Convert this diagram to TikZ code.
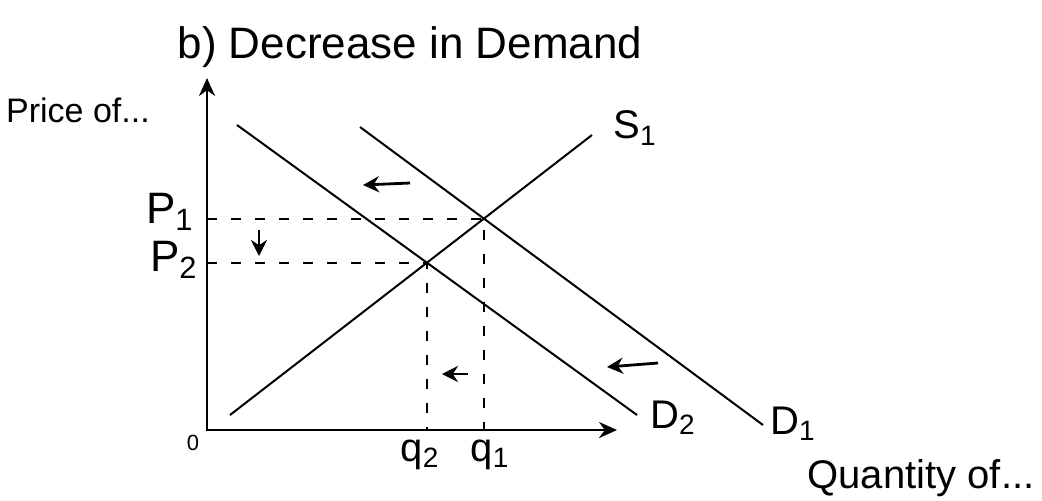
\documentclass[tikz,border=0pt]{standalone}
\usepackage{fontspec}
\setmainfont{Liberation Sans}
\usetikzlibrary{arrows.meta}

\begin{document}
\begin{tikzpicture}[x=0.5pt, y=-0.5pt, >=Stealth,
  curve/.style={line width=1pt},
  guide/.style={line width=1pt, dash pattern=on 5pt off 7pt},
  shiftarrow/.style={-{Stealth[length=8pt, width=8pt]}, line width=1.4pt},
  every node/.style={font=\fontsize{17}{20}\selectfont, inner sep=1pt}]
  \useasboundingbox (0,0) rectangle (1042,500);

  % axes
  \coordinate (O) at (207,430);
  \coordinate (ytop) at (207,78);
  \coordinate (xend) at (617,430);
  \draw[{Stealth[length=9pt, width=8pt]}-{Stealth[length=9pt, width=8pt]}, line width=1.3pt] (ytop) |- (xend);

  % supply and demand curves
  \coordinate (S1a) at (230,415);
  \coordinate (S1b) at (592,135);
  \coordinate (D1a) at (360,127);
  \coordinate (D1b) at (763,425);
  \coordinate (D2a) at (237,125);
  \coordinate (D2b) at (637,415);
  \draw[curve] (S1a) -- (S1b);
  \draw[curve] (D1a) -- (D1b);
  \draw[curve] (D2a) -- (D2b);

  % equilibria
  \coordinate (E1) at (intersection of S1a--S1b and D1a--D1b);
  \coordinate (E2) at (intersection of S1a--S1b and D2a--D2b);
  \draw[guide] (E1 -| O) -- (E1) -- (E1 |- O);
  \draw[guide] (E2 -| O) -- (E2) -- (E2 |- O);

  % shift arrows
  \coordinate (sa1) at (410,183); \coordinate (sb1) at (363,185);
  \coordinate (sa2) at (259,230); \coordinate (sb2) at (259,256);
  \coordinate (sa3) at (468,374); \coordinate (sb3) at (442,374);
  \coordinate (sa4) at (658,363); \coordinate (sb4) at (607,367);
  \draw[shiftarrow] (sa1) -- (sb1);
  \draw[shiftarrow] (sa2) -- (sb2);
  \draw[shiftarrow] (sa3) -- (sb3);
  \draw[shiftarrow] (sa4) -- (sb4);

  % labels
  \node[font=\fontsize{22}{26}\selectfont] (title) at (410,47) {b) Decrease in Demand};
  \node (price) at (78,110) {Price of...};
  \node[font=\fontsize{20}{24}\selectfont] (qty) at (921,478) {Quantity of...};
  \node[font=\fontsize{11}{13}\selectfont] (zero) at (193,443) {0};
  \node[anchor=east, font=\fontsize{22}{26}\selectfont] (p1) at (196,212) {P\textsubscript{1}};
  \node[anchor=east, font=\fontsize{22}{26}\selectfont] (p2) at (200,260) {P\textsubscript{2}};
  \node[font=\fontsize{20}{24}\selectfont] (q2) at (420,455) {q\textsubscript{2}};
  \node[font=\fontsize{20}{24}\selectfont] (q1) at (490,455) {q\textsubscript{1}};
  \node[font=\fontsize{20}{24}\selectfont] (s1) at (635,128) {S\textsubscript{1}};
  \node[font=\fontsize{20}{24}\selectfont] (d2) at (673,418) {D\textsubscript{2}};
  \node[font=\fontsize{20}{24}\selectfont] (d1) at (793,424) {D\textsubscript{1}};
\end{tikzpicture}
\end{document}
